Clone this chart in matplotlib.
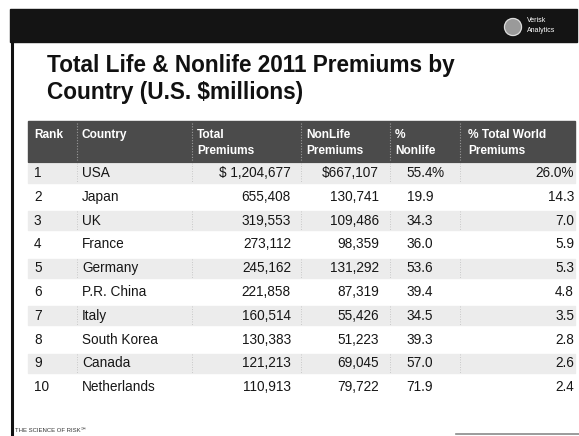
import matplotlib.pyplot as plt
from matplotlib.patches import Rectangle, Circle

plt.rcParams['font.family'] = ['Liberation Sans', 'DejaVu Sans']

# Top 10 countries by total premiums, 2011 (U.S. $ millions)
ranks = [1, 2, 3, 4, 5, 6, 7, 8, 9, 10]
countries = ["USA", "Japan", "UK", "France", "Germany", "P.R. China",
             "Italy", "South Korea", "Canada", "Netherlands"]
total_premiums = [1204677, 655408, 319553, 273112, 245162, 221858,
                  160514, 130383, 121213, 110913]
nonlife_premiums = [667107, 130741, 109486, 98359, 131292, 87319,
                    55426, 51223, 69045, 79722]
pct_nonlife = [55.4, 19.9, 34.3, 36.0, 53.6, 39.4, 34.5, 39.3, 57.0, 71.9]
pct_world = [26.0, 14.3, 7.0, 5.9, 5.3, 4.8, 3.5, 2.8, 2.6, 2.4]
header_top = ["Rank", "Country", "Total", "NonLife", "%", "% Total World"]
header_bottom = ["", "", "Premiums", "Premiums", "Nonlife", "Premiums"]

W, H = 579, 436
fig = plt.figure(figsize=(W / 100, H / 100), dpi=100)
ax = fig.add_axes([0, 0, 1, 1])
ax.set_xlim(0, W)
ax.set_ylim(H, 0)
ax.axis('off')

# slide frame: dark top bar and left rule
ax.add_patch(Rectangle((10, 9), 567, 33, color='#141414', zorder=1))
ax.plot([12, 12], [42, H], color='#111111', lw=2.2, zorder=1)

# logo
ax.add_patch(Circle((513, 27), 8.5, color='#9a9a9a', zorder=2))
ax.add_patch(Circle((513, 27), 8.5, fill=False, ec='#dddddd', lw=0.8, zorder=3))
ax.text(527, 21, "Verisk", color='white', fontsize=5, va='center', ha='left', zorder=3)
ax.text(527, 31, "Analytics", color='white', fontsize=5, va='center', ha='left', zorder=3)

# title
ax.text(47, 72, "Total Life & Nonlife 2011 Premiums by", fontsize=16.3,
        fontweight='bold', color='#111111', va='baseline', ha='left')
ax.text(47, 98.5, "Country (U.S. $millions)", fontsize=16.3,
        fontweight='bold', color='#111111', va='baseline', ha='left')

# table geometry
tbl_left, tbl_right = 28, 575
head_top, head_bot = 121, 162
row0, pitch, band_h = 173, 23.8, 19
col_left = [34, 82, 197, 306, 395, 468]
seps = [77, 192, 301, 390, 460]
x_total, x_nonlife, x_pct, x_world = 291, 379, 433, 574

ax.add_patch(Rectangle((tbl_left, head_top), tbl_right - tbl_left,
                       head_bot - head_top, color='#4b4b4b', zorder=1))
for s in seps:
    ax.plot([s, s], [head_top + 2, head_bot - 2], color='#9a9a9a', lw=0.8,
            ls=(0, (1, 1.5)), zorder=2)
for x, t1, t2 in zip(col_left, header_top, header_bottom):
    ax.text(x, 135, t1, color='white', fontsize=8.6, fontweight='bold',
            va='center', ha='left', zorder=3)
    if t2:
        ax.text(x, 151, t2, color='white', fontsize=8.6, fontweight='bold',
                va='center', ha='left', zorder=3)

fs = 9.8
tc = '#161616'
for i in range(len(ranks)):
    y = row0 + i * pitch
    if i % 2 == 0:
        ax.add_patch(Rectangle((tbl_left, y - band_h / 2), tbl_right - tbl_left,
                               band_h, color='#ececec', zorder=1))
        for s in seps:
            ax.plot([s, s], [y - band_h / 2, y + band_h / 2], color='#bdbdbd',
                    lw=0.6, ls=(0, (1, 2)), zorder=2)
    if i == 0:
        tot = f"$ {total_premiums[i]:,}"
        non = f"${nonlife_premiums[i]:,}"
    else:
        tot = f"{total_premiums[i]:,}"
        non = f"{nonlife_premiums[i]:,}"
    ax.text(col_left[0], y, str(ranks[i]), fontsize=fs, color=tc, va='center', ha='left')
    ax.text(col_left[1], y, countries[i], fontsize=fs, color=tc, va='center', ha='left')
    ax.text(x_total, y, tot, fontsize=fs, color=tc, va='center', ha='right')
    ax.text(x_nonlife, y, non, fontsize=fs, color=tc, va='center', ha='right')
    ax.text(x_pct, y, f"{pct_nonlife[i]:.1f}", fontsize=fs, color=tc, va='center', ha='right')
    if i == 0:
        # percent sign hangs past the decimal-aligned column
        ax.text(x_pct - 1, y, "%", fontsize=fs, color=tc, va='center', ha='left')
        ax.text(x_world, y, f"{pct_world[i]:.1f}%", fontsize=fs, color=tc, va='center', ha='right')
    else:
        ax.text(x_world, y, f"{pct_world[i]:.1f}", fontsize=fs, color=tc, va='center', ha='right')

# footer
ax.text(15, 430, "THE SCIENCE OF RISK\u2120", fontsize=4.3, color='#333333',
        va='center', ha='left')
ax.plot([456, W], [434, 434], color='#8a8a8a', lw=1.2)

fig.savefig("out.png", dpi=100)
